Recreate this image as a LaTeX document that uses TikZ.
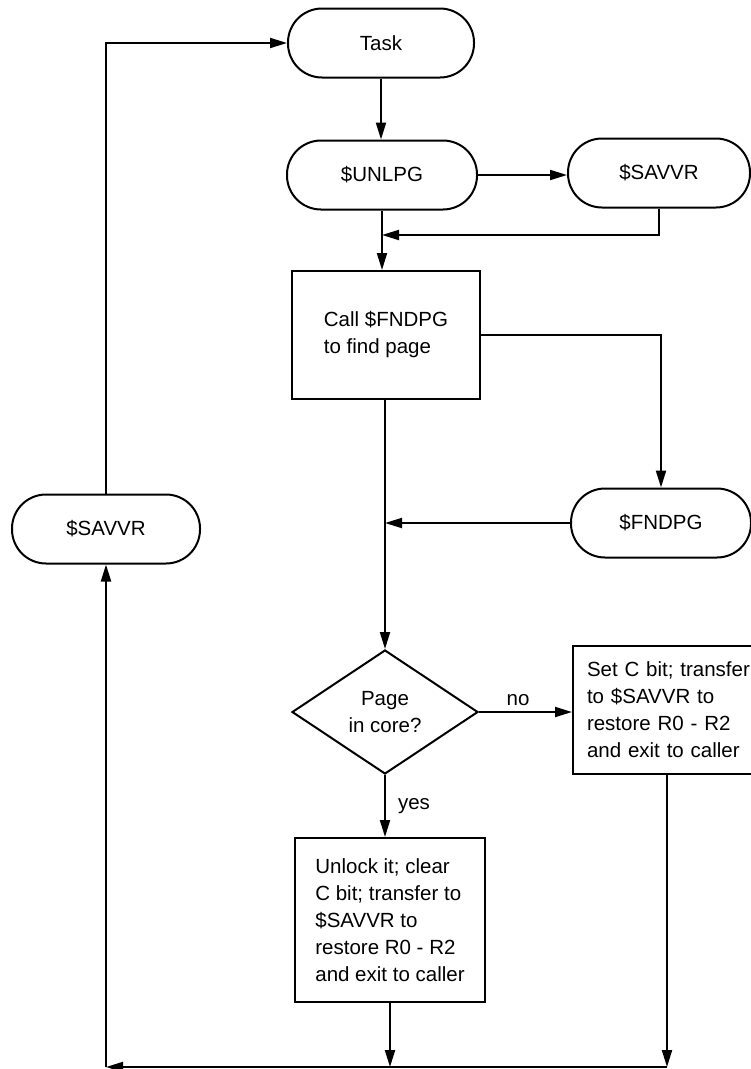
\documentclass[tikz,border=0pt]{standalone}
\usepackage{fontspec}
\setmainfont{Liberation Sans}
\usetikzlibrary{arrows.meta,shapes.geometric}
\begin{document}
\begin{tikzpicture}[x=1pt,y=-1pt,
  every node/.style={font=\fontsize{20.5}{27}\selectfont},
  ln/.style={line width=2pt},
  arr/.style={ln,-{Triangle[length=17pt,width=10pt]}},
  term/.style={draw,ln,rounded corners=34pt,minimum height=69pt,inner sep=0pt,align=center},
  proc/.style={draw,ln,inner sep=0pt,align=left},
  dec/.style={draw,ln,diamond,aspect=1.5,minimum width=186pt,minimum height=124pt,inner sep=0pt,align=center},
  lbl/.style={inner sep=0pt}
]
\useasboundingbox (0,0) rectangle (751,1069);

\node[term,minimum width=186pt] (task) at (381,43) {Task};
\node[term,minimum width=190pt] (unl) at (382,175) {\$UNLPG};
\node[term,minimum width=182pt] (sav1) at (659,173) {\$SAVVR};
\node[proc,minimum width=188pt,minimum height=128pt] (call) at (386,335) {Call \$FNDPG\\to find page};
\node[term,minimum width=180pt] (fnd) at (661,523) {\$FNDPG};
\node[dec] (dec) at (385,712) {Page\\in core?};
\node[proc,text width=180pt,inner xsep=14pt,inner ysep=0pt,minimum height=128pt] (rbox) at (677,710)
  {Set C bit; transfer\\to \$SAVVR to\\restore R0 - R2\\and exit to caller};
\node[proc,minimum width=190pt,minimum height=164pt] (unlock) at (390,920)
  {Unlock it; clear\\C bit; transfer to\\\$SAVVR to\\restore R0 - R2\\and exit to caller};
\node[term,minimum width=188pt] (sav2) at (106,529) {\$SAVVR};

\coordinate (j1) at (382,235);
\coordinate (b1) at (667,1067);
\coordinate (bl) at (106,1067);

\draw[arr] (task.south) -- (task.south |- unl.north);
\draw[arr] (unl.east) -- (unl.east -| sav1.west);
\draw[arr] (sav1.south) |- (j1);
\draw[arr] (unl.south) -- (unl.south |- call.north);
\draw[arr] (call.east) -| (fnd.north);
\draw[arr] (fnd.west) -- (fnd.west -| dec.north);
\draw[arr] (call.south -| dec.north) -- (dec.north);
\draw[arr] (dec.east) -- (dec.east -| rbox.west) node[lbl,pos=0.42,above=5pt] {no};
\draw[arr] (dec.south) -- (dec.south |- unlock.north) node[lbl,midway,right=12pt] {yes};
\draw[arr] (unlock.south) -- (unlock.south |- b1);
\draw[arr] (b1 |- rbox.south) -- (b1);
\draw[arr] (b1) -- (bl);
\draw[arr] (bl) -- (bl |- sav2.south);
\draw[arr] (sav2.north) |- (task.west);
\end{tikzpicture}
\end{document}
